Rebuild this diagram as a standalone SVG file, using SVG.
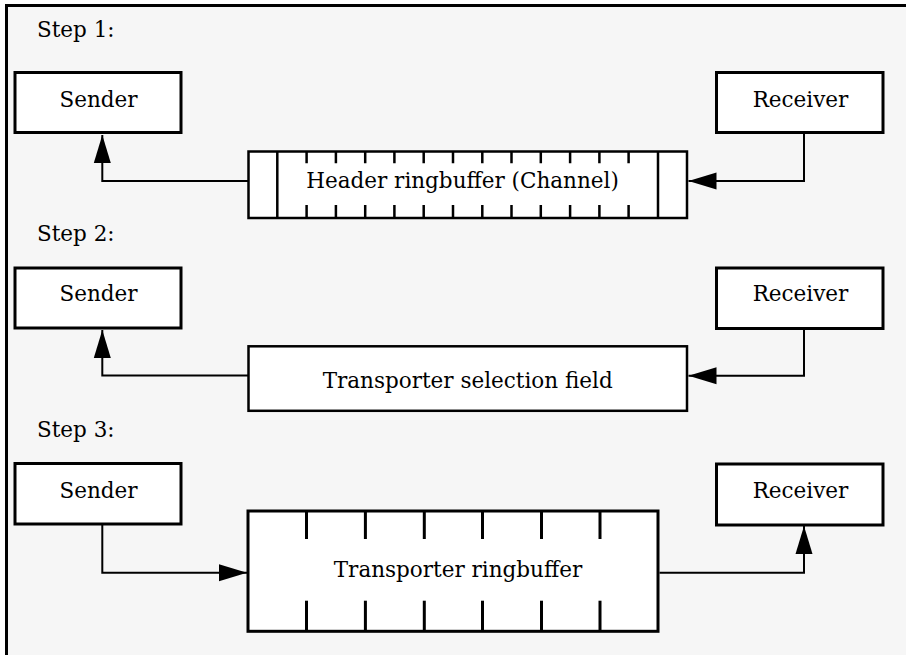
<svg xmlns="http://www.w3.org/2000/svg" width="906" height="655" viewBox="0 0 906 655">
<style>
.t{font-family:"DejaVu Serif","Liberation Serif",serif;font-size:21.5px;fill:#000}
.m{text-anchor:middle}
.box{fill:#fff;stroke:#000;stroke-width:3}
.buf{fill:#fff;stroke:#000;stroke-width:2.5}
.div{stroke:#000;stroke-width:2.5;fill:none}
.div3{stroke:#000;stroke-width:3;fill:none}
.c{fill:none;stroke:#000;stroke-width:2}
</style>
<defs>
<marker id="ah" markerUnits="userSpaceOnUse" markerWidth="29" markerHeight="18" refX="28" refY="8.5" orient="auto" viewBox="0 0 29 17">
<path d="M0,0 L28,8.5 L0,17 z" fill="#000"/>
</marker>
</defs>
<rect width="906" height="655" fill="#fff"/>
<rect x="6.5" y="5.5" width="910" height="660" fill="#f6f6f6"/>
<path d="M6.5,655 V5.5 H906" fill="none" stroke="#000" stroke-width="3"/>
<g id="labels">
<text class="t" x="37" y="37">Step 1:</text>
<text class="t" x="37" y="241">Step 2:</text>
<text class="t" x="37" y="437">Step 3:</text>
</g>
<g id="connectors">
<path class="c" d="M248.5,181 H102.3 V135" marker-end="url(#ah)"/>
<path class="c" d="M804,134 V181 H688.5" marker-end="url(#ah)"/>
<path class="c" d="M248.5,375.5 H102.3 V330" marker-end="url(#ah)"/>
<path class="c" d="M804,329.5 V375.7 H688.5" marker-end="url(#ah)"/>
<path class="c" d="M102.3,524.5 V572.7 H247" marker-end="url(#ah)"/>
<path class="c" d="M659.5,572.7 H804 V526" marker-end="url(#ah)"/>
</g>
<g id="sender1"><rect class="box" x="15" y="72.5" width="166" height="60"/><text class="t m" x="98.5" y="107">Sender</text></g>
<g id="receiver1"><rect class="box" x="716.5" y="72.5" width="166.5" height="60"/><text class="t m" x="800.5" y="107">Receiver</text></g>
<g id="header-ringbuffer">
<rect class="buf" x="248.5" y="151.5" width="438.5" height="66.5"/>
<path class="div" d="M277.3,151.5 V218 M658,151.5 V218"/>
<path class="div" d="M306.6,151.5V163.3M335.9,151.5V163.3M365.2,151.5V163.3M394.4,151.5V163.3M423.7,151.5V163.3M453,151.5V163.3M482.3,151.5V163.3M511.5,151.5V163.3M540.8,151.5V163.3M570.1,151.5V163.3M599.4,151.5V163.3M628.6,151.5V163.3"/>
<path class="div" d="M306.6,205V218M335.9,205V218M365.2,205V218M394.4,205V218M423.7,205V218M453,205V218M482.3,205V218M511.5,205V218M540.8,205V218M570.1,205V218M599.4,205V218M628.6,205V218"/>
<text class="t m" x="462.5" y="188">Header ringbuffer (Channel)</text>
</g>
<g id="sender2"><rect class="box" x="15" y="268" width="166" height="60"/><text class="t m" x="98.5" y="301">Sender</text></g>
<g id="receiver2"><rect class="box" x="716.5" y="268" width="166.5" height="60.5"/><text class="t m" x="800.5" y="301">Receiver</text></g>
<g id="selection-field">
<rect class="buf" x="248.5" y="346.3" width="438.5" height="64.5"/>
<text class="t m" x="467.7" y="388">Transporter selection field</text>
</g>
<g id="sender3"><rect class="box" x="15" y="463.5" width="166" height="60.5"/><text class="t m" x="98.5" y="498.3">Sender</text></g>
<g id="receiver3"><rect class="box" x="716.5" y="464" width="166.5" height="61"/><text class="t m" x="800.5" y="498.3">Receiver</text></g>
<g id="transporter-ringbuffer">
<rect class="box" x="248" y="511" width="410" height="120.3"/>
<path class="div3" d="M306.5,511V631.3M365.4,511V631.3M424.3,511V631.3M482.5,511V631.3M541.5,511V631.3M600,511V631.3"/>
<rect x="290" y="539" width="336.7" height="61.7" fill="#fff"/>
<text class="t m" x="458" y="577.3">Transporter ringbuffer</text>
</g>
</svg>
